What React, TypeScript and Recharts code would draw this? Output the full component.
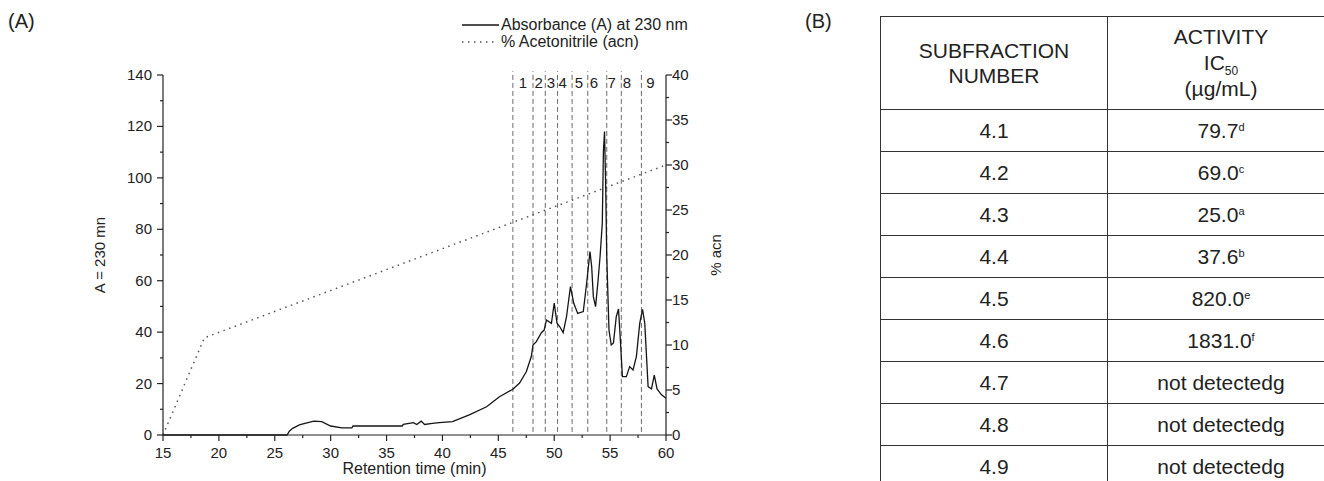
import React from "react";
import { LineChart, Line, XAxis, YAxis, ReferenceLine, ReferenceDot } from "recharts";

// absorbance trace (min, A at 230 nm)
const absTime = [
  15, 26.1, 26.3, 26.6, 27.2, 27.7, 28.5, 29.2, 30, 31, 31.9, 32, 36.4, 36.5, 37.4, 37.7, 38.1, 38.4, 39.1, 39.7,
  40.9, 42.4, 43.95, 45.1, 46.3, 46.9, 47.5, 47.95, 48.1, 48.4, 48.85, 49.1, 49.3, 49.75, 50.0, 50.25, 50.5, 50.8,
  51.1, 51.45, 51.75, 52.1, 52.6, 52.9, 53.2, 53.35, 53.5, 53.7, 53.9, 54.1, 54.3, 54.4, 54.5, 54.6, 54.7, 54.9,
  55.1, 55.3, 55.55, 55.75, 55.9, 56.1, 56.45, 56.75, 57.05, 57.35, 57.65, 57.9, 58.1, 58.4, 58.7, 58.95, 59.2,
  59.6, 60,
];
const absValue = [
  0, 0, 1.5, 2.6, 3.9, 4.5, 5.4, 5.2, 3.5, 2.8, 2.8, 3.5, 3.5, 4.1, 4.8, 4.1, 5.4, 4.1, 4.5, 4.8,
  5.2, 7.8, 11, 14.9, 17.8, 20.2, 24.6, 30.5, 35, 36.3, 39.8, 40.8, 44.7, 43.4, 51.3, 43.5, 42.1, 39.8,
  46, 57.7, 51.2, 47.3, 48, 59, 71.3, 65.5, 53.8, 49.9, 59, 69.3, 82.3, 110, 118, 98, 69.3, 40.8,
  35, 35.8, 46, 49, 38.2, 22.7, 22.7, 26.6, 25.3, 30.5, 43.4, 48.9, 43.4, 18.8, 17.9, 23.3, 17.9,
  15.6, 14.3,
];

// acetonitrile gradient (min, % acn)
const acnTime = [15, 18.7, 60];
const acnValue = [0, 10.8, 30];

// subfraction boundaries and their labels
const fractionBounds = [46.3, 48.1, 49.2, 50.3, 51.6, 53.0, 54.7, 56.0, 57.8];
const fractionNames = ["1", "2", "3", "4", "5", "6", "7", "8", "9"];
const fractionLabelTime = [47.2, 48.6, 49.7, 50.75, 52.2, 53.55, 55.15, 56.5, 58.6];
const fractionLabelLevel = 137;
const boundSpan = [1.2, 141.5];

const xTicks = [15, 17.5, 20, 22.5, 25, 27.5, 30, 32.5, 35, 37.5, 40, 42.5, 45, 47.5, 50, 52.5, 55, 57.5, 60];
const leftTicks = [0, 10, 20, 30, 40, 50, 60, 70, 80, 90, 100, 110, 120, 130, 140];
const rightTicks = [0, 2.5, 5, 7.5, 10, 12.5, 15, 17.5, 20, 22.5, 25, 27.5, 30, 32.5, 35, 37.5, 40];

// table (B)
const subfractions = ["4.1", "4.2", "4.3", "4.4", "4.5", "4.6", "4.7", "4.8", "4.9"];
const activity = ["79.7", "69.0", "25.0", "37.6", "820.0", "1831.0", "not detectedg", "not detectedg", "not detectedg"];
const activitySup = ["d", "c", "a", "b", "e", "f", "", "", ""];

const absData = absTime.map((t, i) => ({ t, v: absValue[i] }));
const acnData = acnTime.map((t, i) => ({ t, v: acnValue[i] }));

const FONT = "'Liberation Sans', Arial, Helvetica, sans-serif";
const INK = "#222";

const AxisTick = (props: any) => {
  const { x, y, payload, side } = props;
  const v = payload.value;
  const major = side === "left" ? v % 20 === 0 : v % 5 === 0;
  const len = major ? 6 : 3;
  const common = { fill: INK, fontSize: 15, fontFamily: FONT };
  if (side === "bottom") {
    return (
      <g>
        <line x1={x} y1={y} x2={x} y2={y + len} stroke={INK} strokeWidth={1.2} />
        {major && (
          <text x={x} y={y + 23} textAnchor="middle" {...common}>
            {v}
          </text>
        )}
      </g>
    );
  }
  if (side === "left") {
    return (
      <g>
        <line x1={x} y1={y} x2={x - len} y2={y} stroke={INK} strokeWidth={1.2} />
        {major && (
          <text x={x - 11} y={y + 5} textAnchor="end" {...common}>
            {v}
          </text>
        )}
      </g>
    );
  }
  return (
    <g>
      <line x1={x} y1={y} x2={x + len} y2={y} stroke={INK} strokeWidth={1.2} />
      {major && (
        <text x={x + 6} y={y + 5} textAnchor="start" {...common}>
          {v}
        </text>
      )}
    </g>
  );
};

const cell: React.CSSProperties = {
  border: "1.5px solid #333",
  textAlign: "center",
  verticalAlign: "middle",
  padding: 0,
};

export default function App() {
  return (
    <div
      style={{
        position: "absolute",
        left: 0,
        top: 0,
        width: 1324,
        height: 481,
        overflow: "hidden",
        background: "#fff",
        fontFamily: FONT,
        color: INK,
      }}
    >
      <div style={{ position: "absolute", left: 8, top: 10, fontSize: 20 }}>(A)</div>
      <div style={{ position: "absolute", left: 805, top: 10, fontSize: 20 }}>(B)</div>

      <div style={{ position: "absolute", left: 0, top: 0 }}>
        <LineChart width={760} height={481} margin={{ top: 75, right: 0, bottom: 0, left: 0 }}>
          <XAxis
            dataKey="t"
            type="number"
            domain={[15, 60]}
            ticks={xTicks}
            interval={0}
            height={46}
            tickSize={0}
            tickMargin={0}
            tickLine={false}
            axisLine={{ stroke: INK, strokeWidth: 1.2 }}
            tick={<AxisTick side="bottom" />}
            label={{
              value: "Retention time (min)",
              position: "center",
              dy: 10,
              fill: INK,
              fontSize: 16,
              fontFamily: FONT,
            }}
          />
          <YAxis
            yAxisId="left"
            type="number"
            domain={[0, 140]}
            ticks={leftTicks}
            interval={0}
            width={163}
            tickSize={0}
            tickMargin={0}
            tickLine={false}
            axisLine={{ stroke: INK, strokeWidth: 1.2 }}
            tick={<AxisTick side="left" />}
            label={{
              value: "A = 230 mn",
              angle: -90,
              position: "center",
              dx: 18,
              fill: INK,
              fontSize: 15,
              fontFamily: FONT,
            }}
          />
          <YAxis
            yAxisId="right"
            orientation="right"
            type="number"
            domain={[0, 40]}
            ticks={rightTicks}
            interval={0}
            width={94}
            tickSize={0}
            tickMargin={0}
            tickLine={false}
            axisLine={{ stroke: INK, strokeWidth: 1.2 }}
            tick={<AxisTick side="right" />}
            label={{
              value: "% acn",
              angle: -90,
              position: "center",
              dx: 3,
              fill: INK,
              fontSize: 15,
              fontFamily: FONT,
            }}
          />
          {fractionBounds.map((t) => (
            <ReferenceLine
              key={t}
              segment={[
                { x: t, y: boundSpan[0] },
                { x: t, y: boundSpan[1] },
              ]}
              yAxisId="left"
              ifOverflow="visible"
              stroke="#6a6a6a"
              strokeWidth={1}
              strokeDasharray="5 3"
            />
          ))}
          {fractionNames.map((n, i) => (
            <ReferenceDot
              key={n}
              x={fractionLabelTime[i]}
              y={fractionLabelLevel}
              yAxisId="left"
              r={0}
              fill="none"
              stroke="none"
              label={{ value: n, position: "center", fill: INK, fontSize: 15, fontFamily: FONT }}
            />
          ))}
          <Line
            yAxisId="right"
            data={acnData}
            dataKey="v"
            type="linear"
            stroke="#555"
            strokeWidth={1.5}
            strokeDasharray="1.5 4.5"
            dot={false}
            isAnimationActive={false}
          />
          <Line
            yAxisId="left"
            data={absData}
            dataKey="v"
            type="linear"
            stroke="#151515"
            strokeWidth={1.3}
            dot={false}
            isAnimationActive={false}
          />
        </LineChart>
      </div>

      {/* legend */}
      <svg style={{ position: "absolute", left: 455, top: 12 }} width={60} height={40}>
        <line x1={7} y1={13} x2={44} y2={13} stroke="#151515" strokeWidth={1.3} />
        <line x1={7} y1={30} x2={43} y2={30} stroke="#555" strokeWidth={1.5} strokeDasharray="1.5 4.5" />
      </svg>
      <div style={{ position: "absolute", left: 501, top: 15, fontSize: 16, lineHeight: "20px", whiteSpace: "nowrap" }}>
        Absorbance (A) at 230 nm
      </div>
      <div style={{ position: "absolute", left: 501, top: 32, fontSize: 16, lineHeight: "20px", whiteSpace: "nowrap" }}>
        % Acetonitrile (acn)
      </div>

      {/* table (B) */}
      <table
        style={{
          position: "absolute",
          left: 880,
          top: 16,
          borderCollapse: "collapse",
          fontSize: 21,
          tableLayout: "fixed",
          width: 454,
          color: INK,
        }}
      >
        <colgroup>
          <col style={{ width: 227 }} />
          <col style={{ width: 227 }} />
        </colgroup>
        <thead>
          <tr style={{ height: 93 }}>
            <th style={{ ...cell, fontWeight: "normal", lineHeight: "25px" }}>
              SUBFRACTION
              <br />
              NUMBER
            </th>
            <th style={{ ...cell, fontWeight: "normal", lineHeight: "26px" }}>
              ACTIVITY
              <br />
              IC<sub style={{ fontSize: 12, lineHeight: 0 }}>50</sub>
              <br />
              (µg/mL)
            </th>
          </tr>
        </thead>
        <tbody>
          {subfractions.map((s, i) => (
            <tr key={s} style={{ height: 42 }}>
              <td style={cell}>{s}</td>
              <td style={cell}>
                {activity[i]}
                {activitySup[i] && (
                  <sup style={{ fontSize: 11, lineHeight: 0, verticalAlign: "7px" }}>{activitySup[i]}</sup>
                )}
              </td>
            </tr>
          ))}
        </tbody>
      </table>
    </div>
  );
}
